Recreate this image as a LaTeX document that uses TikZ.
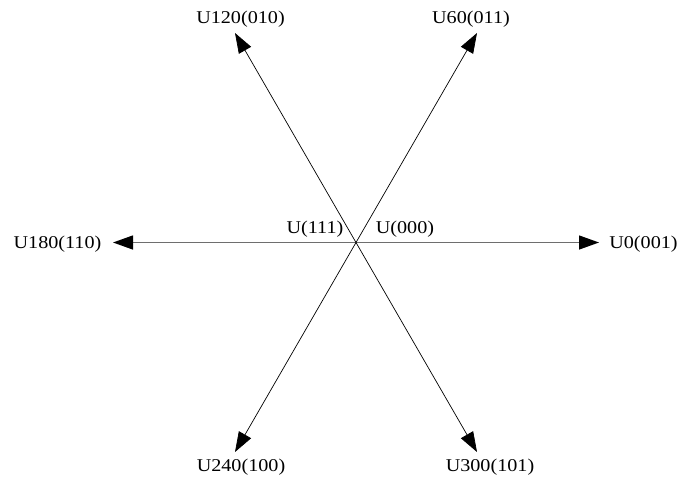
\documentclass[tikz,border=0pt]{standalone}
\usepackage{fontspec}
\setmainfont{Liberation Serif}[FakeStretch=1.12]
\usetikzlibrary{arrows.meta}
\begin{document}
\begin{tikzpicture}[x=1pt,y=-1pt,
  lbl/.style={inner sep=0pt,font=\fontsize{18}{20}\selectfont},
  vec/.style={line width=0.7pt,-{Triangle[length=20pt,width=14pt]}},
  hvec/.style={line width=1.3pt,draw={rgb,255:red,110;green,110;blue,110},-{Triangle[length=20pt,width=14pt,color=black,fill=black]}}]
\useasboundingbox (0,0) rectangle (681,477);
\coordinate (o) at (356,242.5);
\coordinate (t0) at (599,242.5);
\coordinate (t180) at (113,242.5);
\coordinate (t60) at (477,33);
\coordinate (t120) at (235,33);
\coordinate (t240) at (235,452);
\coordinate (t300) at (477,452);
\draw[hvec] (o) -- (t0);
\draw[hvec] (o) -- (t180);
\draw[vec] (o) -- (t60);
\draw[vec] (o) -- (t120);
\draw[vec] (o) -- (t240);
\draw[vec] (o) -- (t300);
\node[lbl] (l0) at (643.5,244) {U0(001)};
\node[lbl] (l180) at (57.5,244) {U180(110)};
\node[lbl] (l60) at (471,19) {U60(011)};
\node[lbl] (l120) at (240.5,19) {U120(010)};
\node[lbl] (l240) at (241,467) {U240(100)};
\node[lbl] (l300) at (490,467) {U300(101)};
\node[lbl] (l111) at (315,229) {U(111)};
\node[lbl] (l000) at (405,229) {U(000)};
\end{tikzpicture}
\end{document}
